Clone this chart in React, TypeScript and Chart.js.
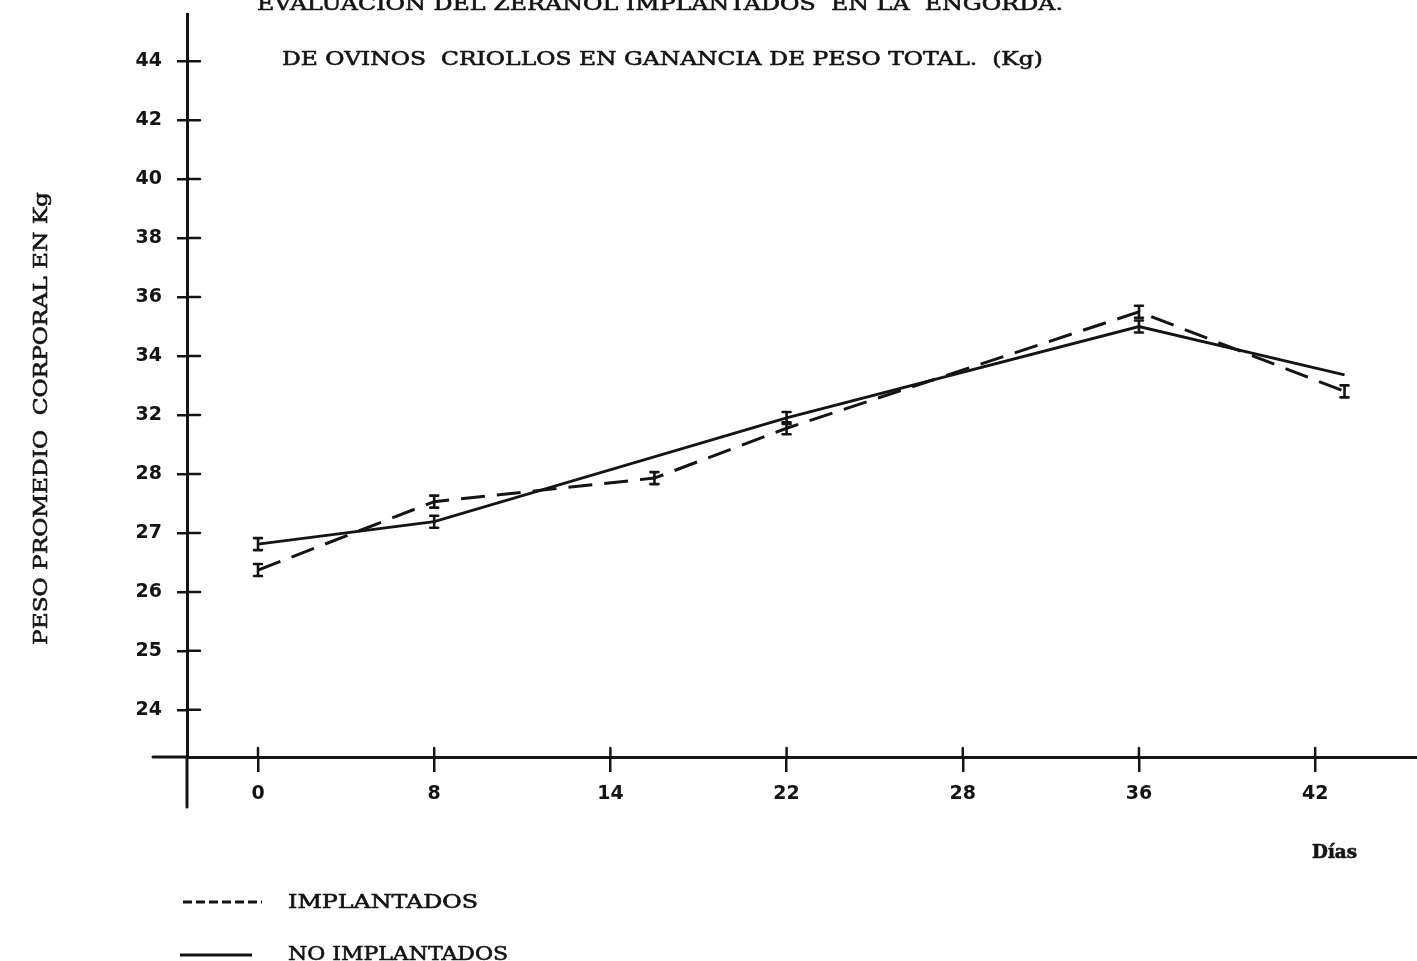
import { useEffect, useRef } from "react";
import { Chart, registerables } from "chart.js";

Chart.register(...registerables);

// ---- data ----
const dayTicks = [0, 8, 14, 22, 28, 36, 42];
const weightTicks = [24, 25, 26, 27, 28, 32, 34, 36, 38, 40, 42, 44];

const implantadosDays = [0, 8, 16, 22, 36, 43];
const implantadosKg = [26.37, 27.53, 27.93, 31.1, 35.5, 32.8];
const implantadosMarked = [true, true, true, true, true, true];

const noImplantadosDays = [0, 8, 22, 36, 43];
const noImplantadosKg = [26.81, 27.19, 31.8, 35.0, 33.36];
const noImplantadosMarked = [true, true, true, true, false];

const titleLine1 = "EVALUACION DEL ZERANOL IMPLANTADOS  EN LA  ENGORDA.";
const titleLine2 = "DE OVINOS  CRIOLLOS EN GANANCIA DE PESO TOTAL.  (Kg)";
const yTitle = "PESO PROMEDIO  CORPORAL EN Kg";
const xTitle = "Días";
const legendLabels = ["IMPLANTADOS", "NO IMPLANTADOS"];

const INK = "#141414";

// the hand-drawn axes space their (irregular) tick labels evenly;
// map a real value onto that evenly spaced tick-index axis
function toTickIndex(v: number, ticks: number[]): number {
  const n = ticks.length;
  let i = 0;
  if (v >= ticks[n - 1]) i = n - 2;
  else {
    while (i < n - 2 && v > ticks[i + 1]) i++;
  }
  return i + (v - ticks[i]) / (ticks[i + 1] - ticks[i]);
}

function series(days: number[], kg: number[]) {
  return days.map((d, i) => ({
    x: toTickIndex(d, dayTicks),
    y: toTickIndex(kg[i], weightTicks),
  }));
}

function fitText(
  ctx: CanvasRenderingContext2D,
  text: string,
  x1: number,
  x2: number,
  baseline: number,
  font: string
) {
  ctx.save();
  ctx.font = font;
  const w = ctx.measureText(text).width;
  ctx.translate(x1, baseline);
  ctx.scale((x2 - x1) / w, 1);
  ctx.textAlign = "left";
  ctx.textBaseline = "alphabetic";
  ctx.fillStyle = INK;
  ctx.strokeStyle = INK;
  ctx.lineWidth = 0.6;
  ctx.fillText(text, 0, 0);
  ctx.strokeText(text, 0, 0);
  ctx.restore();
}

const decorPlugin = {
  id: "decor",
  afterDraw(chart: any) {
    const ctx: CanvasRenderingContext2D = chart.ctx;
    const area = chart.chartArea;
    const xs = chart.scales.x;
    const ys = chart.scales.y;
    ctx.save();
    ctx.strokeStyle = INK;
    ctx.lineCap = "round";

    // axis extensions (axes cross each other)
    ctx.lineWidth = 3;
    ctx.beginPath();
    ctx.moveTo(area.left, area.bottom);
    ctx.lineTo(area.left, 807);
    ctx.moveTo(153, area.bottom);
    ctx.lineTo(area.left, area.bottom);
    ctx.stroke();

    // inner halves of the crossing tick marks
    ctx.lineWidth = 2.5;
    ctx.beginPath();
    ys.ticks.forEach((t: any) => {
      const y = ys.getPixelForValue(t.value);
      ctx.moveTo(area.left, y);
      ctx.lineTo(area.left + 13, y);
    });
    xs.ticks.forEach((t: any) => {
      const x = xs.getPixelForValue(t.value);
      ctx.moveTo(x, area.bottom);
      ctx.lineTo(x, area.bottom - 9);
    });
    ctx.stroke();

    // "I" shaped error marks on the data points
    const marks = [implantadosMarked, noImplantadosMarked];
    ctx.lineWidth = 2.6;
    chart.data.datasets.forEach((_ds: any, di: number) => {
      const meta = chart.getDatasetMeta(di);
      meta.data.forEach((pt: any, pi: number) => {
        if (!marks[di][pi]) return;
        const { x, y } = pt;
        ctx.beginPath();
        ctx.moveTo(x, y - 6);
        ctx.lineTo(x, y + 6);
        ctx.moveTo(x - 4, y - 6);
        ctx.lineTo(x + 4, y - 6);
        ctx.moveTo(x - 4, y + 6);
        ctx.lineTo(x + 4, y + 6);
        ctx.stroke();
      });
    });

    // titles
    const serif = '19px "DejaVu Serif", serif';
    fitText(ctx, titleLine1, 257, 1063, 10, serif);
    fitText(ctx, titleLine2, 282, 1043, 65, serif);

    // y axis title (vertical)
    ctx.save();
    ctx.font = serif;
    const w = ctx.measureText(yTitle).width;
    ctx.translate(47, 645);
    ctx.rotate(-Math.PI / 2);
    ctx.scale((645 - 192) / w, 1);
    ctx.fillStyle = INK;
    ctx.strokeStyle = INK;
    ctx.lineWidth = 0.6;
    ctx.textAlign = "left";
    ctx.textBaseline = "alphabetic";
    ctx.fillText(yTitle, 0, 0);
    ctx.strokeText(yTitle, 0, 0);
    ctx.restore();

    // x axis title
    fitText(ctx, xTitle, 1312, 1357, 858, 'bold 18px "DejaVu Serif", serif');

    // legend
    ctx.lineWidth = 3;
    ctx.lineCap = "butt";
    ctx.setLineDash([9, 4]);
    ctx.beginPath();
    ctx.moveTo(183, 902);
    ctx.lineTo(262, 902);
    ctx.stroke();
    ctx.setLineDash([]);
    ctx.beginPath();
    ctx.moveTo(180, 955);
    ctx.lineTo(252, 955);
    ctx.stroke();
    fitText(ctx, legendLabels[0], 288, 478, 908, serif);
    fitText(ctx, legendLabels[1], 288, 508, 960, serif);

    ctx.restore();
  },
};

export default function App() {
  const canvasRef = useRef<HTMLCanvasElement | null>(null);

  useEffect(() => {
    if (!canvasRef.current) return;
    const tickFont = { family: '"DejaVu Sans", sans-serif', size: 19, weight: "bold" as const };
    const chart = new Chart(canvasRef.current, {
      type: "line",
      data: {
        datasets: [
          {
            label: legendLabels[0],
            data: series(implantadosDays, implantadosKg),
            borderColor: INK,
            borderWidth: 3,
            borderDash: [24, 12],
            pointRadius: 0,
            tension: 0,
            fill: false,
          },
          {
            label: legendLabels[1],
            data: series(noImplantadosDays, noImplantadosKg),
            borderColor: INK,
            borderWidth: 2.8,
            pointRadius: 0,
            tension: 0,
            fill: false,
          },
        ],
      },
      options: {
        responsive: false,
        animation: false,
        events: [],
        layout: { padding: { top: 14, right: 0, bottom: 0, left: 0 } },
        plugins: {
          legend: { display: false },
          title: { display: false },
          tooltip: { enabled: false },
        },
        scales: {
          x: {
            type: "linear",
            min: -0.403,
            max: 6.578,
            afterBuildTicks: (s: any) => {
              s.ticks = dayTicks.map((_, i) => ({ value: i }));
            },
            afterFit: (s: any) => {
              s.height = 204;
              s.paddingLeft = 0;
              s.paddingRight = 0;
            },
            ticks: {
              autoSkip: false,
              maxRotation: 0,
              padding: 11,
              color: INK,
              font: tickFont,
              callback: (_v: any, i: number) => String(dayTicks[i]),
            },
            grid: {
              drawOnChartArea: false,
              drawTicks: true,
              tickLength: 15,
              color: INK,
              lineWidth: 2.5,
            },
            border: { display: true, color: INK, width: 3 },
          },
          y: {
            type: "linear",
            min: -0.8,
            max: 11.8,
            afterBuildTicks: (s: any) => {
              s.ticks = weightTicks.map((_, i) => ({ value: i }));
            },
            afterFit: (s: any) => {
              s.width = 187;
              s.paddingTop = 0;
              s.paddingBottom = 0;
            },
            ticks: {
              autoSkip: false,
              padding: 15,
              color: INK,
              font: tickFont,
              callback: (_v: any, i: number) => String(weightTicks[i]),
            },
            grid: {
              drawOnChartArea: false,
              drawTicks: true,
              tickLength: 10,
              color: INK,
              lineWidth: 2.5,
            },
            border: { display: true, color: INK, width: 3 },
          },
        },
      },
      plugins: [decorPlugin],
    });
    return () => chart.destroy();
  }, []);

  return (
    <div
      style={{
        position: "fixed",
        left: 0,
        top: 0,
        width: 1417,
        height: 961,
        background: "#ffffff",
      }}
    >
      <canvas ref={canvasRef} width={1417} height={961} style={{ display: "block" }} />
    </div>
  );
}
